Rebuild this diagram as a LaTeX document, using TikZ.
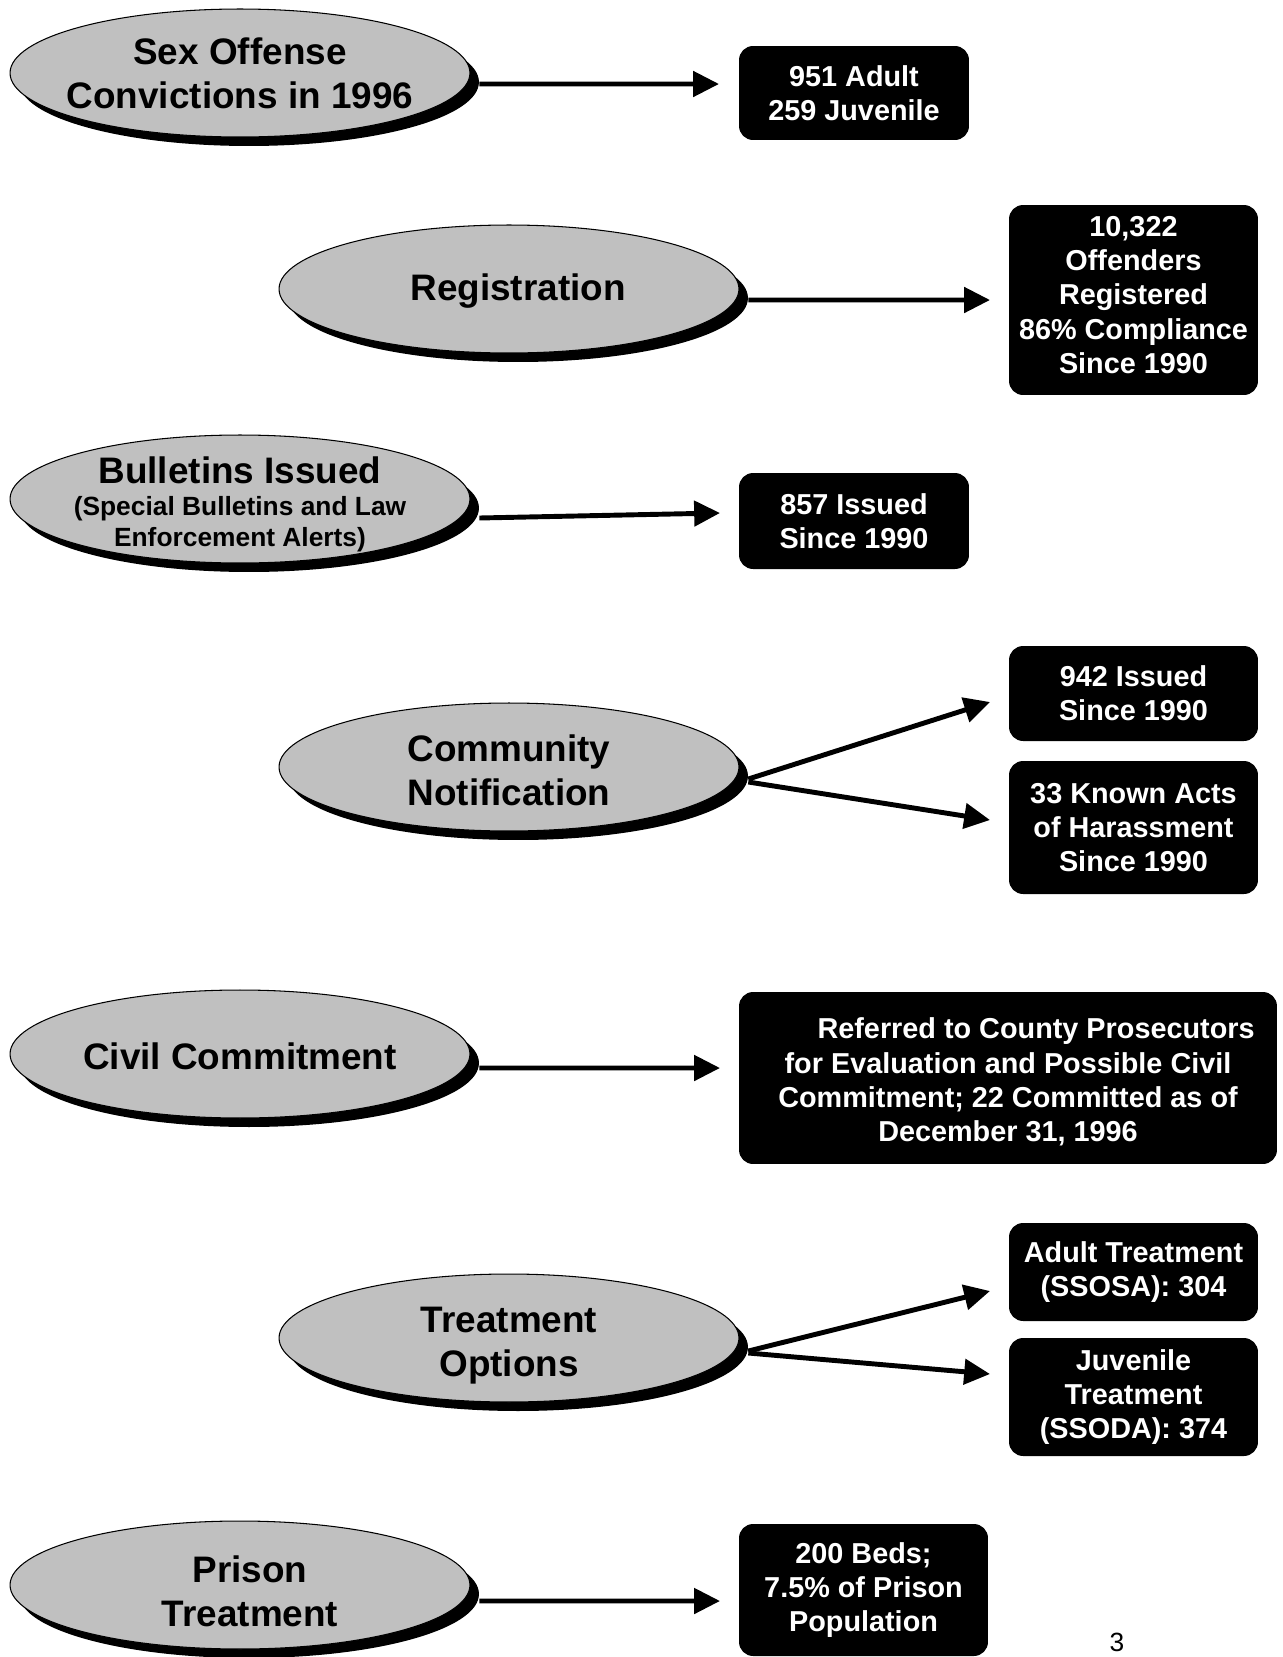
\documentclass[tikz,border=0pt]{standalone}
\usepackage{fontspec}
\setmainfont{Liberation Sans}
\usetikzlibrary{shapes.geometric,arrows.meta}
\definecolor{ovalgray}{RGB}{192,192,192}

\begin{document}
\begin{tikzpicture}[x=0.02cm, y=-0.02cm,
  topic/.style={ellipse, draw, line width=0.6pt, fill=ovalgray, minimum width=9.2cm, minimum height=2.56cm, inner sep=0pt},
  ovalshadow/.style={ellipse, fill=black, minimum width=9.2cm, minimum height=2.56cm, inner sep=0pt},
  topictext/.style={align=center, inner sep=0pt, font=\fontsize{21}{25}\selectfont\bfseries},
  subtext/.style={align=center, inner sep=0pt, font=\fontsize{15}{17.6}\selectfont\bfseries},
  fact/.style={fill=black, rounded corners=8pt, text=white, align=center, inner sep=0pt, font=\fontsize{16.4}{19.5}\selectfont\bfseries},
  facttext/.style={text=white, align=center, inner sep=0pt, font=\fontsize{16.4}{19.5}\selectfont\bfseries},
  link/.style={line width=2.8pt, -{Triangle[length=14.7pt,width=14.2pt]}}]
\useasboundingbox (0,0) rectangle (1283,1657);

\node[ovalshadow] (convS) at (249,82) {};
\node[topic] (conv) at (240,73) {};
\node[topictext] (convT) at (conv) {Sex Offense\\Convictions in 1996};
\node[fact, minimum width=4.6cm, minimum height=1.88cm] (convBox) at (854,93) {951 Adult\\259 Juvenile};
\coordinate (convTip) at (719,84);
\draw[link] ([yshift=-0.04cm]convS.east) -- (convTip);

\node[ovalshadow] (regS) at (518,298) {};
\node[topic] (reg) at (509,289) {};
\node[topictext] (regT) at (518,291) {Registration};
\node[fact, minimum width=4.98cm, minimum height=3.8cm] (regBox) at (1133.5,300) {};
\node[facttext] (regBoxT) at (1133.5,295) {10,322\\Offenders\\Registered\\86\% Compliance\\Since 1990};
\coordinate (regTip) at (990,300);
\draw[link] ([yshift=-0.04cm]regS.east) -- (regTip);

\node[ovalshadow] (bullS) at (249,508) {};
\node[topic] (bull) at (240,499) {};
\node[topictext] (bullT) at (240,470) {Bulletins Issued};
\node[subtext] (bullSub) at (240,524) {(Special Bulletins and Law\\Enforcement Alerts)};
\node[fact, minimum width=4.6cm, minimum height=1.92cm] (bullBox) at (854,521) {857 Issued\\Since 1990};
\coordinate (bullTip) at (720,513);
\draw[link] ([yshift=-0.2cm]bullS.east) -- (bullTip);

\node[ovalshadow] (notS) at (518,776) {};
\node[topic] (not) at (509,767) {};
\node[topictext] (notT) at (509,770) {Community\\Notification};
\node[fact, minimum width=4.98cm, minimum height=1.9cm] (notBoxA) at (1133.5,693.5) {942 Issued\\Since 1990};
\node[fact, minimum width=4.98cm, minimum height=2.66cm] (notBoxB) at (1133.5,827.5) {33 Known Acts\\of Harassment\\Since 1990};
\coordinate (notTipA) at (990,702);
\coordinate (notTipB) at (990,820);
\draw[link] ([yshift=-0.06cm]notS.east) -- (notTipA);
\draw[link] ([yshift=-0.12cm]notS.east) -- (notTipB);

\node[ovalshadow] (civS) at (249,1063) {};
\node[topic] (civ) at (240,1054) {};
\node[topictext] (civT) at (240,1056) {Civil Commitment};
\node[fact, minimum width=10.76cm, minimum height=3.44cm] (civBox) at (1008,1078) {};
\node[facttext] (civBoxT) at (1008,1082) {\hspace*{32pt}Referred to County Prosecutors\\for Evaluation and Possible Civil\\Commitment; 22 Committed as of\\December 31, 1996};
\coordinate (civTip) at (720,1068);
\draw[link] ([yshift=-0.1cm]civS.east) -- (civTip);

\node[ovalshadow] (treatS) at (518,1347) {};
\node[topic] (treat) at (509,1338) {};
\node[topictext] (treatT) at (509,1346) {Treatment\\Options};
\node[fact, minimum width=4.98cm, minimum height=1.96cm] (treatBoxA) at (1133.5,1272) {Adult Treatment\\(SSOSA): 304};
\node[fact, minimum width=4.98cm, minimum height=2.36cm] (treatBoxB) at (1133.5,1397) {Juvenile\\Treatment\\(SSODA): 374};
\coordinate (treatTipA) at (990,1291);
\coordinate (treatTipB) at (990,1374);
\draw[link] ([yshift=-0.08cm]treatS.east) -- (treatTipA);
\draw[link] ([yshift=-0.12cm]treatS.east) -- (treatTipB);

\node[ovalshadow] (prisS) at (249,1594) {};
\node[topic] (pris) at (240,1585) {};
\node[topictext] (prisT) at (250,1591) {Prison\\Treatment};
\node[fact, minimum width=4.98cm, minimum height=2.64cm] (prisBox) at (863.5,1590) {200 Beds;\\7.5\% of Prison\\Population};
\coordinate (prisTip) at (720,1601);
\draw[link] ([yshift=-0.14cm]prisS.east) -- (prisTip);

\node[font=\fontsize{15}{18}\selectfont] (pageNo) at (1117,1642) {3};
\end{tikzpicture}
\end{document}
